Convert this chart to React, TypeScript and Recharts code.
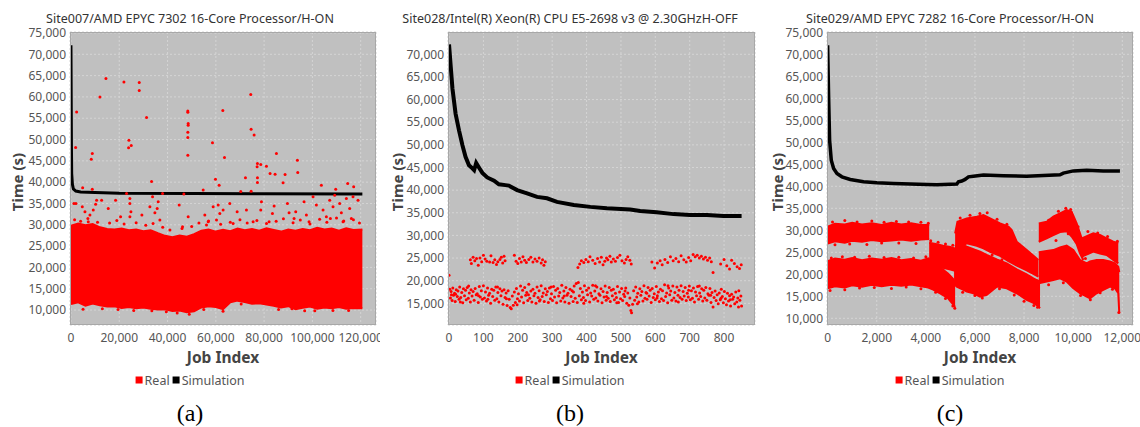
import { Area, CartesianGrid, ComposedChart, Line, Scatter, XAxis, YAxis } from "recharts";

type Pt = [number, number];
type Band = [number, number, number]; // job index, low, high

const FONT = '"Noto Sans", sans-serif';

// ---------- (a) Site007 ----------
const bandA: Band[] = [
    [0, 11400, 29800], [3000, 11800, 30300], [6000, 11000, 29900], [9000, 11500, 30200],
    [12000, 11100, 29400], [15000, 10800, 29000], [18000, 10900, 28900], [21000, 10500, 29100],
    [24000, 10700, 28700], [27000, 10400, 28900], [30000, 10600, 28500], [33000, 10300, 28700],
    [36000, 10100, 28000], [39000, 10200, 27400], [42000, 9800, 27100], [45000, 9900, 27500],
    [48000, 9500, 27200], [51000, 9700, 27800], [54000, 10600, 28600], [57000, 10900, 28900],
    [60000, 10700, 28400], [63000, 10200, 28800], [66000, 11800, 28500], [69000, 12200, 29100],
    [72000, 11900, 28700], [75000, 11500, 29000], [78000, 11600, 28600], [81000, 11300, 29200],
    [84000, 11000, 28800], [87000, 10600, 28400], [90000, 10900, 28900], [93000, 10200, 28600],
    [96000, 10500, 29000], [99000, 10800, 28700], [102000, 10300, 29300], [105000, 10600, 28900],
    [108000, 10400, 29100], [111000, 10700, 28600], [114000, 10300, 29200], [117000, 10500, 28800],
    [120700, 10400, 28900],
];

const simA: Pt[] = [
    [0, 72100], [100, 60000], [200, 48000], [300, 42000], [600, 39500], [1000, 38400], [2000, 37900],
    [4000, 37700], [10000, 37550], [20000, 37400], [50000, 37350], [80000, 37300], [120700, 37200],
];

const realA: Pt[] = [
    [14480, 64300], [12000, 60000], [2340, 56480], [1930, 48130], [21930, 63520], [28280, 63360],
    [28280, 61480], [31310, 55160], [24000, 49840], [24970, 48590], [23860, 48050], [8830, 46720],
    [8410, 45390], [48410, 56720], [48410, 56400], [48550, 53750], [48550, 53360], [48410, 51720],
    [48410, 50470], [48410, 46330], [62900, 56800], [58620, 49220], [63590, 45780], [59860, 40700],
    [61380, 39300], [74480, 60550], [74620, 52420], [75860, 51090], [85100, 46720], [77240, 44380],
    [78620, 44140], [80970, 43750], [77100, 43590], [82480, 42030], [84550, 41880], [77240, 41020],
    [77240, 39920], [88690, 41800], [87860, 39840], [93790, 45160], [93930, 42270], [72280, 41020],
    [74620, 37890], [70340, 37810], [33380, 40160], [103720, 39300], [114620, 39690], [117100, 38910],
    [109660, 38360], [4830, 38670], [8830, 38360], [54760, 38130], [23030, 37340], [46760, 37190],
    [1240, 35000], [2070, 35000], [4690, 34220], [5790, 33050], [10620, 35780], [12690, 35780],
    [10210, 34840], [9240, 33440], [7860, 32270], [7170, 30700], [15450, 33830], [18480, 35780],
    [24410, 36170], [24410, 35000], [24830, 33050], [24410, 31880], [20550, 31880], [29380, 32270],
    [32690, 34220], [33790, 36560], [36140, 35390], [35720, 33830], [34760, 32810], [36830, 31090],
    [37930, 37340], [44830, 34610], [48550, 31880], [46210, 29530], [55450, 32270], [56830, 30700],
    [56140, 29920], [58900, 34220], [60970, 34610], [61660, 32660], [63030, 33440], [60280, 31090],
    [65790, 35000], [67170, 30310], [68830, 33050], [72690, 33440], [75450, 30700], [78900, 35390],
    [78620, 33440], [84140, 34380], [83450, 32660], [82070, 30700], [89660, 35000], [90340, 32810],
    [93100, 33050], [92410, 31480], [96550, 35390], [97520, 32270], [98620, 30700], [100280, 36560],
    [101660, 34610], [104410, 33440], [105790, 31880], [107170, 35780], [108550, 34220], [109240, 36950],
    [111310, 35000], [112000, 32810], [114070, 36170], [115450, 33830], [116830, 36560], [118900, 35780],
    [116140, 31480], [107450, 31480], [112690, 30700],
    [1500, 31200], [4000, 30800], [7000, 31500], [11000, 30600], [16000, 30400], [19000, 31000],
    [22000, 30200], [27000, 30500], [31000, 29900], [34000, 30300], [38000, 29400], [41000, 28800],
    [46000, 29100], [50000, 29600], [53000, 30400], [57000, 30900], [62000, 30100], [66000, 30600],
    [70000, 31200], [73000, 30400], [77000, 31000], [81000, 30300], [85000, 30800], [88000, 31400],
    [92000, 30500], [95000, 31100], [99000, 30200], [103000, 31300], [106000, 30600], [110000, 31600],
    [113000, 30900], [117000, 31200], [119500, 30400],
    [5000, 10200], [26000, 9900], [44000, 9300], [49000, 9000], [63000, 9700], [96800, 9840], [101000, 9800],
    [13000, 10300], [19500, 10100], [33500, 9800], [39500, 9600], [55000, 10100], [70500, 11400],
    [86000, 10100], [91500, 10300], [108500, 9900], [115000, 9900],
];

// ---------- (b) Site028 ----------
const simB: Pt[] = [
    [0, 72200], [5, 67200], [10, 62400], [19, 56900], [29, 53200], [39, 49900], [48, 47350], [58, 45500],
    [68, 44800], [73, 44400], [79, 46000], [87, 45000], [97, 43800], [111, 42800], [131, 42100],
    [145, 41300], [164, 41100], [174, 41000], [198, 40000], [227, 39300], [256, 38500], [285, 38200],
    [314, 37400], [363, 36700], [411, 36300], [459, 36000], [527, 35700], [556, 35400], [604, 35100],
    [653, 34700], [701, 34500], [750, 34500], [798, 34300], [851, 34300],
];

const realUpperB: Pt[] = [
    [62, 24600], [65, 23800], [70, 25200], [75, 24400], [80, 24900], [85, 23400], [90, 25000], [95, 24200],
    [100, 25600], [105, 24800], [110, 24300], [118, 24100], [122, 25500], [128, 24000], [133, 24600],
    [138, 23600], [142, 24200], [148, 24700], [152, 25200], [156, 23900], [160, 25400], [163, 24400],
    [190, 25600], [195, 24300], [200, 23800], [205, 24900], [210, 24100], [215, 25300], [220, 24500],
    [225, 24000], [232, 24700], [238, 25200], [244, 24100], [250, 24800], [256, 24300], [262, 25000],
    [268, 23900], [272, 24600], [276, 23400], [280, 24200],
    [375, 22900], [380, 23700], [385, 24400], [392, 24000], [398, 24700], [405, 24200], [410, 25300],
    [418, 24500], [425, 23800], [432, 24900], [438, 24100], [443, 25200], [448, 23500], [453, 24300],
    [458, 25000], [462, 24600], [468, 25400], [472, 24100], [478, 24800], [484, 24300], [490, 25100],
    [497, 25600], [503, 24400], [510, 23900], [515, 24700], [520, 25300], [526, 24500], [530, 23700],
    [590, 24100], [598, 22800], [606, 23900], [614, 24400], [620, 23500], [628, 24700], [636, 24000],
    [644, 25300], [652, 24400], [660, 24900], [668, 24200], [675, 25500], [683, 24600],
    [690, 24100], [697, 25100], [703, 24400], [710, 25800], [716, 25300], [722, 25600], [728, 25000],
    [734, 25400], [740, 24800], [746, 25200], [752, 24500], [758, 25000], [763, 24200], [768, 21800],
    [790, 23700], [800, 24700], [808, 23300], [816, 22600], [822, 24500], [830, 23800], [838, 23100],
    [845, 22700], [850, 23500], [0, 21200],
];

const realLowerB: Pt[] = [
    [2, 18100], [4, 16200], [6, 17600], [9, 15600], [11, 18400], [13, 16800], [16, 17200], [18, 15400],
    [21, 18000], [24, 16500], [26, 17700], [29, 15900], [31, 18600], [34, 16300], [37, 17400], [40, 15100],
    [42, 18200], [45, 16700], [48, 17900], [50, 15800], [53, 18500], [56, 16100], [59, 17300], [62, 15300],
    [64, 18000], [67, 16600], [70, 17600], [73, 15700], [76, 18300], [79, 16900], [82, 17100], [85, 15200],
    [88, 18700], [91, 16400], [94, 17800], [97, 15900], [100, 18900], [103, 16200], [106, 17500], [109, 15500],
    [112, 18400], [115, 16800], [118, 17200], [121, 15000], [124, 18100], [127, 16500], [130, 17900], [133, 15700],
    [136, 18600], [139, 16000], [142, 17400], [145, 15300], [148, 18200], [151, 16700], [154, 17700], [157, 14800],
    [160, 18000], [163, 16300], [166, 17300], [169, 14500], [172, 17800], [175, 15900], [178, 14100], [181, 13800],
    [184, 16600], [187, 14600], [190, 17500], [193, 15200], [196, 18300], [199, 16000], [202, 17100], [205, 15500],
    [208, 18800], [211, 16400], [214, 17900], [217, 15100], [220, 18500], [223, 16800], [226, 17400], [229, 15600],
    [232, 19200], [235, 16100], [238, 17700], [241, 15300], [244, 18100], [247, 16700], [250, 17200], [253, 15000],
    [256, 18600], [259, 16300], [262, 17800], [265, 15800], [268, 18900], [271, 16500], [274, 17300], [277, 15400],
    [280, 18200], [283, 16900], [286, 17600], [289, 15200], [292, 18400], [295, 16000], [298, 17100], [301, 15600],
    [304, 18700], [307, 16400], [310, 17900], [313, 15100], [316, 18300], [319, 16600], [322, 17400], [325, 15500],
    [328, 19000], [331, 16200], [334, 17700], [337, 15300], [340, 18500], [343, 16800], [346, 17200], [349, 15000],
    [352, 18100], [355, 16500], [358, 17800], [361, 15400], [364, 18800], [367, 16100], [370, 19400], [373, 15200],
    [376, 19600], [379, 16700], [382, 18300], [385, 15800], [388, 17500], [391, 16300], [394, 18900], [397, 15600],
    [400, 17900], [403, 16900], [406, 18400], [409, 15300], [412, 17300], [415, 16600], [418, 19000], [421, 15900],
    [424, 17700], [427, 16200], [430, 18600], [433, 15500], [436, 17100], [439, 16800], [442, 18200], [445, 15100],
    [448, 17600], [451, 16400], [454, 18800], [457, 15700], [460, 17400], [463, 16100], [466, 18500], [469, 15400],
    [472, 17900], [475, 16700], [478, 18100], [481, 15800], [484, 17200], [487, 16300], [490, 18700], [493, 15200],
    [496, 17500], [499, 16000], [502, 18300], [505, 15600], [508, 17000], [511, 16500], [514, 18400], [517, 15000],
    [520, 17300], [523, 14600], [526, 16200], [529, 13400], [531, 12900], [534, 14800], [537, 17800], [540, 15700],
    [543, 18600], [546, 16400], [549, 17200], [552, 15300], [555, 18200], [558, 16800], [561, 17600], [564, 15500],
    [567, 18900], [570, 16100], [573, 17400], [576, 15900], [579, 18500], [582, 16600], [585, 17900], [588, 15200],
    [591, 18300], [594, 16300], [597, 17100], [600, 15800], [603, 18700], [606, 16700], [609, 17500], [612, 15400],
    [615, 18100], [618, 16000], [621, 17800], [624, 15600], [627, 19100], [630, 16500], [633, 17300], [636, 15100],
    [639, 18400], [642, 16900], [645, 17700], [648, 15700], [651, 18800], [654, 16200], [657, 17400], [660, 15500],
    [663, 18600], [666, 16800], [669, 17900], [672, 16300], [675, 18900], [678, 15900], [681, 17600], [684, 16600],
    [687, 18500], [690, 15600], [693, 17200], [696, 16400], [699, 18800], [702, 15800], [705, 17800], [708, 16100],
    [711, 18400], [714, 15300], [717, 17500], [720, 16700], [723, 18700], [726, 15900], [729, 17300], [732, 16500],
    [735, 18200], [738, 15500], [741, 17900], [744, 16200], [747, 18500], [750, 15700], [753, 17100], [756, 16800],
    [759, 18300], [762, 15200], [765, 17400], [768, 14200], [771, 16300], [774, 17700], [777, 15600], [780, 16900],
    [783, 14900], [786, 17300], [789, 15800], [792, 18100], [795, 16500], [798, 15100], [801, 17600], [804, 16000],
    [807, 14700], [810, 17200], [813, 15500], [816, 16700], [819, 14400], [822, 17000], [825, 15900], [828, 16400],
    [831, 14900], [834, 17500], [837, 15300], [840, 16200], [843, 17800], [846, 15700], [849, 16600], [851, 14400],
    [7, 16900], [19, 17000], [33, 15300], [57, 18800], [86, 16700], [113, 15900], [141, 18600], [167, 16000],
    [198, 14700], [231, 16900], [263, 15500], [297, 18600], [335, 16600], [362, 17500], [392, 15000], [426, 18900],
    [458, 16500], [488, 15100], [512, 17700], [548, 14900], [575, 17200], [605, 16200], [637, 18900], [667, 15300],
    [697, 17900], [728, 18800], [761, 16800], [791, 16100], [818, 15800], [842, 14200],
];

// ---------- (c) Site029 ----------
const upperC: Band[] = [
    [0, 27000, 30800], [300, 27500, 31500], [700, 27200, 31300], [1000, 27600, 31700], [1400, 27400, 31300],
    [1800, 27800, 31600], [2200, 27500, 31200], [2600, 27700, 31700], [3000, 27900, 31300], [3400, 27600, 31600],
    [3800, 27900, 31200], [4136, 28000, 31200],
];
const lowerC: Band[] = [
    [0, 16800, 23000], [300, 17300, 23600], [700, 17000, 23300], [1000, 17500, 23700], [1400, 17200, 23200],
    [1800, 17600, 23600], [2200, 17300, 23300], [2600, 17600, 23700], [3000, 17400, 23200], [3400, 17700, 23500],
    [3800, 17300, 23100], [4100, 17000, 23600], [4300, 16500, 22700], [4600, 15600, 21500], [4900, 14600, 20200],
    [5100, 13200, 19000], [5193, 12600, 18200],
];
const middleC: Band[] = [
    [4136, 22300, 27200], [4400, 21900, 26900], [4700, 21500, 26500], [5000, 21100, 26200], [5193, 20800, 25800],
];
const riseUpperC: Band[] = [
    [5193, 24000, 29300], [5288, 26000, 31950], [5668, 27040, 32710], [6075, 26500, 33090], [6346, 25900, 33470],
    [6617, 25100, 32710], [7024, 24200, 31570], [7363, 23000, 30820], [7498, 22600, 30060], [7702, 22000, 27410],
    [8108, 20900, 25520], [8583, 19470, 23260],
];
const riseLowerC: Band[] = [
    [5150, 17800, 24500], [5261, 17200, 27040], [5532, 16450, 26600], [5668, 16100, 26280], [5939, 15690, 25700],
    [6210, 14930, 25150], [6481, 15310, 24400], [6888, 17200, 23400], [7295, 16820, 22500], [7702, 15690, 21100],
    [8108, 14180, 20000], [8380, 13500, 19090], [8515, 13040, 18700], [8651, 12290, 18340],
];
const arcC: Band[] = [
    [8600, 27400, 31570], [8922, 28200, 31950], [9193, 28900, 33090], [9464, 29600, 33840], [9735, 29800, 34600],
    [9939, 28600, 34220], [10142, 26900, 31570], [10278, 24770, 29300], [10413, 23260, 27040],
];
const tailUpperC: Band[] = [
    [10350, 24000, 28170], [10820, 25150, 29300], [11091, 24700, 28930], [11363, 24390, 28170],
    [11634, 23260, 27410], [11837, 22500, 27040],
];
const tailLowerC: Band[] = [
    [8600, 17960, 25000], [8922, 18340, 25300], [9193, 18720, 25500], [9464, 19090, 26100], [9735, 18340, 26500],
    [10007, 16820, 25520], [10278, 15690, 23260], [10549, 14930, 22500], [10685, 14560, 22900], [10956, 15690, 23260],
    [11227, 16450, 23260], [11498, 17200, 22900], [11702, 16820, 22500], [11837, 15690, 21740], [11878, 11150, 20500],
];
const realC: Pt[] = [
    [200, 31900], [700, 32200], [1200, 31900], [1800, 32100], [2300, 31800], [2800, 32000], [3300, 31900],
    [3800, 31800], [4100, 31600], [300, 26700], [900, 26900], [1600, 26800], [2200, 27100], [2900, 27100],
    [3600, 27000], [150, 23700], [600, 24000], [1100, 23900], [1700, 24100], [2300, 23800], [2900, 23900],
    [3500, 23700], [4000, 24000], [100, 16300], [700, 16500], [1300, 16900], [1900, 17000], [2600, 16800],
    [3200, 17100], [3800, 16700], [4400, 15900], [4800, 14500], [5100, 12800], [5180, 12300], [4200, 27600],
    [4500, 27300], [4800, 26900], [5100, 26600], [4300, 21500], [4700, 21000], [5400, 32800], [5800, 33400],
    [6200, 33800], [6500, 34000], [6900, 32500], [7300, 31400], [5500, 15900], [6000, 15200], [6300, 14600],
    [7000, 16700], [7600, 15300], [8000, 13900], [8400, 12900], [8550, 12500], [9000, 32300], [9400, 34300],
    [9700, 35000], [9900, 34700], [10200, 30800], [10600, 29700], [11000, 29400], [11400, 28600], [11800, 27500],
    [9000, 17600], [9600, 18100], [10300, 15200], [10700, 14200], [11100, 15800], [11600, 16600], [11860, 11300],
    [7800, 26800], [8200, 24800], [6700, 24400], [7100, 23300], [10500, 23600], [9300, 27700], [9800, 29200],
];

const simC: Pt[] = [
    [0, 72040], [41, 60300], [81, 50500], [149, 45950], [244, 44050], [380, 42900], [583, 42150], [922, 41560],
    [1464, 41030], [2007, 40800], [2685, 40650], [3363, 40500], [4041, 40420], [4447, 40350], [5261, 40500],
    [5329, 41030], [5464, 41200], [5600, 41560], [5736, 42150], [5939, 42300], [6346, 42540], [7159, 42400],
    [8108, 42300], [9464, 42600], [9600, 43000], [10007, 43500], [10549, 43650], [11227, 43500], [11905, 43450],
];

const ticksY = [10000, 15000, 20000, 25000, 30000, 35000, 40000, 45000, 50000, 55000, 60000, 65000, 70000, 75000];

const toPts = (arr: Pt[]) => arr.map(([x, y]) => ({ x, y }));
const toRows = (key: string, arr: Band[]) => arr.map(([x, lo, hi]) => ({ x, [key]: [lo, hi] }));

const tableA = toRows("band", bandA);
const tableC = [
    ...toRows("u1", upperC), ...toRows("l1", lowerC), ...toRows("m1", middleC),
    ...toRows("a", riseUpperC), ...toRows("b", riseLowerC), ...toRows("c", arcC),
    ...toRows("d", tailUpperC), ...toRows("e", tailLowerC),
].sort((p, q) => p.x - q.x);

const fmt = (v: number) => v.toLocaleString("en-US");
const tickStyle = { fontSize: 12, fill: "#555", fontFamily: FONT };
const redDot = (p: any) => <circle cx={p.cx} cy={p.cy} r={1.5} fill="#ff0000" />;

interface PanelProps {
    left: number;
    axisW: number;
    right: number;
    title: string;
    caption: string;
    table?: any[];
    bandKeys: string[];
    real: Pt[];
    sim: Pt[];
    simWidth: number;
    xDomain: [number, number];
    xTicks: number[];
    yDomain: [number, number];
    yTicks: number[];
}

function Panel(props: PanelProps) {
    const { left, axisW, right, title, caption, table, bandKeys, real, sim, simWidth, xDomain, xTicks, yDomain, yTicks } = props;
    const plotW = 380 - axisW - right;
    return (
        <div style={{ position: "absolute", left, top: 0, width: 380, height: 427, fontFamily: FONT }}>
            <div style={{ position: "absolute", left: 0, width: 380, top: 11, textAlign: "center", fontSize: 12.5, color: "#333", whiteSpace: "nowrap", lineHeight: "16px" }}>
                {title}
            </div>
            <ComposedChart width={380} height={360} data={table} margin={{ top: 32, right, bottom: 0, left: 0 }}>
                <CartesianGrid fill="#c0c0c0" stroke="#d4d4d4" strokeDasharray="2 2" />
                <XAxis type="number" dataKey="x" domain={xDomain} ticks={xTicks} allowDataOverflow interval={0}
                    tickFormatter={fmt} tick={tickStyle} axisLine={false} tickLine={false} height={35} />
                <YAxis type="number" domain={yDomain} ticks={yTicks} allowDataOverflow interval={0}
                    tickFormatter={fmt} tick={tickStyle} axisLine={false} tickLine={false} width={axisW} tickSize={2} tickMargin={2} />
                {bandKeys.map((k) => (
                    <Area key={k} dataKey={k} type="linear" stroke="#ff0000" strokeWidth={2} fill="#ff0000" fillOpacity={1}
                        connectNulls dot={false} activeDot={false} isAnimationActive={false} />
                ))}
                <Scatter data={toPts(real)} dataKey="y" fill="#ff0000" shape={redDot} isAnimationActive={false} />
                <Line data={toPts(sim)} dataKey="y" type="linear" stroke="#000" strokeWidth={simWidth} dot={false} activeDot={false} isAnimationActive={false} />
            </ComposedChart>
            <div style={{ position: "absolute", left: axisW, top: 32, width: plotW, height: 293, boxSizing: "border-box", border: "1px solid #a8a8a8", pointerEvents: "none" }} />
            <div style={{ position: "absolute", left: 17, top: 182, transform: "translate(-50%, -50%) rotate(-90deg)", fontSize: 15, fontWeight: 700, color: "#444", whiteSpace: "nowrap" }}>
                Time (s)
            </div>
            <div style={{ position: "absolute", left: axisW + plotW / 2, top: 357, transform: "translate(-50%, -50%)", fontSize: 15.5, fontWeight: 700, color: "#444", whiteSpace: "nowrap" }}>
                Job Index
            </div>
            <div style={{ position: "absolute", left: 190, top: 380, transform: "translate(-50%, -50%)", fontSize: 12.5, color: "#555", whiteSpace: "nowrap", display: "flex", alignItems: "center" }}>
                <span style={{ display: "inline-block", width: 7, height: 7, background: "#ff0000", marginRight: 2 }} />
                <span>Real</span>
                <span style={{ display: "inline-block", width: 7, height: 7, background: "#000", marginLeft: 3, marginRight: 2 }} />
                <span>Simulation</span>
            </div>
            <div style={{ position: "absolute", left: 190, top: 413, transform: "translate(-50%, -50%)", fontFamily: '"Liberation Serif", serif', fontSize: 24, color: "#000" }}>
                {caption}
            </div>
        </div>
    );
}

export default function App() {
    return (
        <div style={{ position: "absolute", left: 0, top: 0, width: 1140, height: 427, background: "#fff", overflow: "hidden" }}>
            <Panel left={0} axisW={70} right={4} title="Site007/AMD EPYC 7302 16-Core Processor/H-ON" caption="(a)"
                table={tableA} bandKeys={["band"]} real={realA} sim={simA} simWidth={3}
                xDomain={[-400, 126350]} xTicks={[0, 20000, 40000, 60000, 80000, 100000, 120000]}
                yDomain={[6485, 75226]} yTicks={ticksY} />
            <Panel left={380} axisW={68} right={5} title="Site028/Intel(R) Xeon(R) CPU E5-2698 v3 @ 2.30GHzH-OFF" caption="(b)"
                bandKeys={[]} real={[...realUpperB, ...realLowerB]} sim={simB} simWidth={4}
                xDomain={[-3, 890]} xTicks={[0, 100, 200, 300, 400, 500, 600, 700, 800]}
                yDomain={[10213, 74920]} yTicks={ticksY.filter((t) => t >= 15000 && t <= 70000)} />
            <Panel left={760} axisW={67} right={7} title="Site029/AMD EPYC 7282 16-Core Processor/H-ON" caption="(c)"
                table={tableC} bandKeys={["u1", "l1", "m1", "a", "b", "c", "d", "e"]} real={realC} sim={simC} simWidth={3.5}
                xDomain={[-25, 12437]} xTicks={[0, 2000, 4000, 6000, 8000, 10000, 12000]}
                yDomain={[8479, 75060]} yTicks={ticksY} />
        </div>
    );
}
